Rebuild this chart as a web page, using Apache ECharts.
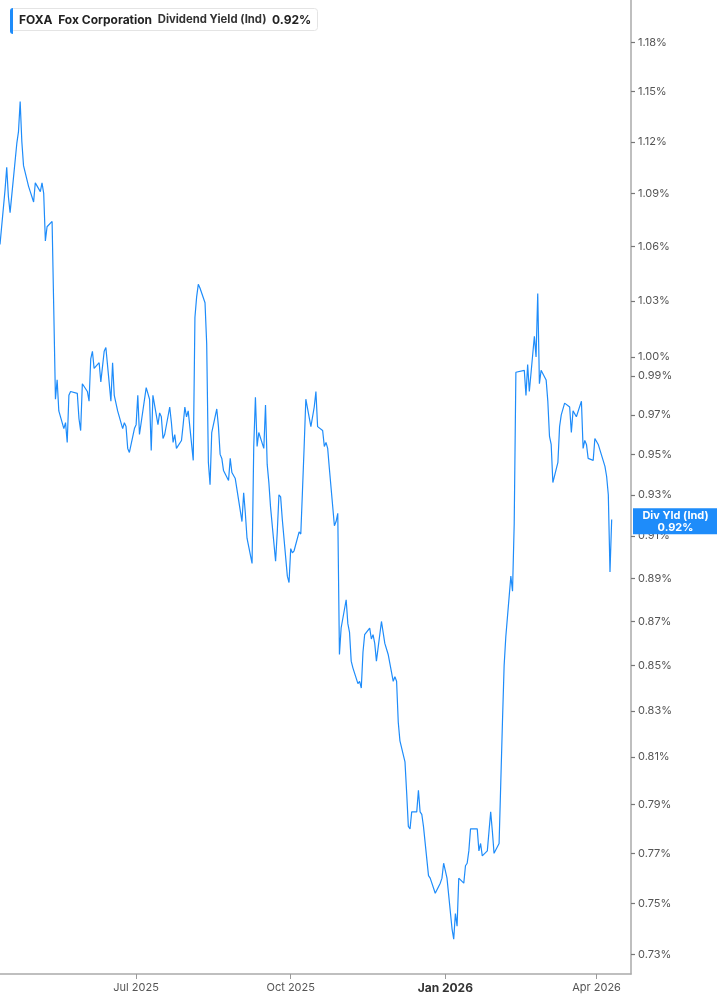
<!DOCTYPE html>
<html><head><meta charset="utf-8">
<script src="https://cdn.jsdelivr.net/npm/echarts@6/dist/echarts.min.js"></script>
<style>html,body{margin:0;padding:0;background:#fff}#chart{width:717px;height:1005px}</style>
</head><body><div id="chart"></div>
<script>
const startDate = '2025-04-11';
const endDate = '2026-04-10';
const marketHolidays = ['2025-04-18','2025-05-26','2025-06-19','2025-07-04','2025-09-01','2025-11-27','2025-12-25','2026-01-01','2026-01-19','2026-02-16','2026-04-03'];
const yieldValues = [
1.061,1.092,1.105,1.088,1.079,1.119,1.126,1.144,1.120,1.106,
1.094,1.091,1.088,1.085,1.096,1.091,1.096,1.090,1.063,1.071,
1.074,1.025,0.978,0.988,0.972,0.963,0.966,0.956,0.980,0.982,
0.981,0.968,0.962,0.986,0.982,0.977,0.999,1.003,0.994,0.997,
0.987,0.987,1.003,1.005,0.977,0.997,0.980,0.972,0.963,0.966,
0.964,0.953,0.951,0.963,0.965,
0.980,0.960,0.984,0.981,0.978,0.952,0.980,0.965,0.971,0.969,
0.958,0.960,0.974,0.966,0.956,0.960,0.953,0.957,0.965,0.974,
0.969,0.972,0.947,1.021,1.032,1.039,1.037,1.029,1.007,0.946,
0.935,0.961,0.973,0.964,0.950,0.948,0.942,0.937,0.948,0.941,
0.941,0.938,0.917,0.931,0.921,0.909,0.897,0.954,0.979,0.954,
0.961,0.953,0.975,0.945,0.936,0.924,0.898,0.912,0.930,0.929,
0.918,0.891,0.888,0.904,
0.902,0.903,0.912,0.911,0.932,0.954,0.978,0.964,0.963,0.974,
0.982,0.964,0.962,0.954,0.956,0.953,0.943,0.915,0.917,0.921,
0.855,0.867,0.880,0.869,0.865,0.852,0.849,0.842,0.843,0.840,
0.856,0.864,0.867,0.862,0.864,0.860,0.852,0.870,0.865,0.860,
0.855,0.843,0.845,0.843,0.825,0.817,0.808,0.795,0.781,0.780,
0.787,0.787,0.796,0.787,0.786,0.781,0.761,0.760,0.758,0.754,
0.758,0.760,0.766,0.760,
0.740,0.736,0.746,0.741,0.760,0.758,0.765,0.766,0.771,0.780,
0.780,0.771,0.774,0.769,0.771,0.779,0.787,0.779,0.770,0.774,
0.799,0.825,0.850,0.863,0.891,0.884,0.916,0.992,0.993,0.993,
0.980,0.996,0.982,1.011,1.000,1.034,0.986,0.993,0.988,0.977,
0.959,0.955,0.936,0.946,0.964,0.970,0.971,0.976,0.974,0.961,
0.972,0.971,0.969,0.977,0.953,0.957,0.955,0.948,0.947,0.958,
0.958,0.955,0.944,0.939,0.930,0.893,0.918
];
const yTickValues = [0.73,0.75,0.77,0.79,0.81,0.83,0.85,0.87,0.89,0.91,0.93,0.95,0.97,0.99,1.00,1.03,1.06,1.09,1.12,1.15,1.18];
const xTickDates = ['2025-07-01','2025-10-01','2026-01-01','2026-04-01'];
const yRange = [0.7226, 1.2068];
const xRange = ['2025-04-11', '2026-04-21 12:00:00'];
const monthNames = ['Jan','Feb','Mar','Apr','May','Jun','Jul','Aug','Sep','Oct','Nov','Dec'];

function tradingDays(start, end, holidays) {
  const out = [];
  const d = new Date(start + 'T00:00:00Z');
  const e = new Date(end + 'T00:00:00Z');
  while (d <= e) {
    const wd = d.getUTCDay();
    const s = d.toISOString().slice(0, 10);
    if (wd !== 0 && wd !== 6 && holidays.indexOf(s) < 0) out.push(s);
    d.setUTCDate(d.getUTCDate() + 1);
  }
  return out;
}
const tparse = function (s) { return +echarts.time.parse(s); };
const dates = tradingDays(startDate, endDate, marketHolidays);
const n = Math.min(dates.length, yieldValues.length);
const seriesData = [];
for (let i = 0; i < n; i++) seriesData.push([dates[i], yieldValues[i]]);
const lastValue = yieldValues[n - 1];
const lastText = lastValue.toFixed(2) + '%';

const FONT = 'Inter, "Noto Sans", sans-serif';
const BLUE = '#1E8CFA';
const chart = echarts.init(document.getElementById('chart'));
chart.setOption({
  animation: false,
  textStyle: { fontFamily: FONT },
  grid: { left: 0, right: 86, top: 0, bottom: 31, containLabel: false, outerBoundsMode: 'none' },
  title: {
    left: 10, top: 8,
    text: '{t|FOXA}  {n|Fox Corporation}  {d|Dividend Yield (Ind)}  {v|' + lastText + '}',
    padding: [6, 7, 5, 9],
    borderColor: '#e4e4e4', borderWidth: 1, borderRadius: 3, backgroundColor: '#fff',
    textStyle: {
      fontFamily: FONT, fontSize: 12, color: '#222',
      rich: {
        t: { fontFamily: FONT, fontSize: 12, fontWeight: 'bold', color: '#222' },
        n: { fontFamily: FONT, fontSize: 12, fontWeight: 'bold', color: '#222' },
        d: { fontFamily: FONT, fontSize: 11.3, color: '#333' },
        v: { fontFamily: FONT, fontSize: 12, fontWeight: 'bold', color: '#222' }
      }
    }
  },
  graphic: [{
    type: 'rect', left: 10, top: 8, z: 100,
    shape: { width: 3, height: 26, r: [3, 0, 0, 3] },
    style: { fill: BLUE }
  }],
  xAxis: [{
    type: 'time', min: xRange[0], max: xRange[1], show: false,
    splitLine: { show: false }
  }, {
    type: 'value', position: 'bottom',
    min: tparse(xRange[0]), max: tparse(xRange[1]),
    axisLine: { show: true, lineStyle: { color: '#aaa', width: 1.5 } },
    axisTick: { show: true, customValues: xTickDates.map(tparse), length: 5, lineStyle: { color: '#999' } },
    axisLabel: {
      customValues: xTickDates.map(tparse), color: '#555', fontSize: 11, margin: 8, fontFamily: FONT,
      formatter: function (v) {
        const d = new Date(v);
        const s = monthNames[d.getMonth()] + ' ' + d.getFullYear();
        return d.getMonth() === 0 ? '{b|' + s + '}' : s;
      },
      rich: { b: { fontWeight: 'bold', color: '#333', fontSize: 12, fontFamily: FONT } }
    },
    splitLine: { show: false }
  }],
  yAxis: [{
    type: 'log', logBase: 10, min: yRange[0], max: yRange[1], position: 'left', show: false,
    splitLine: { show: false }
  }, {
    type: 'value', position: 'right',
    min: Math.log10(yRange[0]), max: Math.log10(yRange[1]),
    axisLine: { show: true, lineStyle: { color: '#aaa', width: 1.5 } },
    axisTick: { show: true, customValues: yTickValues.map(Math.log10), length: 4, lineStyle: { color: '#777', width: 1.2 } },
    axisLabel: {
      customValues: yTickValues.map(Math.log10), color: '#555', fontSize: 11, margin: 7, fontFamily: FONT,
      formatter: function (v) { return Math.pow(10, v).toFixed(2) + '%'; }
    },
    splitLine: { show: false }
  }],
  series: [{
    type: 'line', xAxisIndex: 0, yAxisIndex: 0, data: seriesData, showSymbol: false, symbol: 'none',
    lineStyle: { color: BLUE, width: 1.2 }, itemStyle: { color: BLUE },
    markLine: {
      silent: true, symbol: ['none', 'none'], animation: false,
      lineStyle: { color: 'rgba(0,0,0,0)', width: 0 },
      label: {
        show: true, position: 'end', distance: 2, offset: [0, 6],
        formatter: '{a|Div Yld (Ind)}\n{a|' + lastText + '}',
        backgroundColor: BLUE, padding: [1, 0, 1, 0],
        rich: { a: { width: 85, align: 'center', color: '#fff', fontWeight: 'bold', fontSize: 11, lineHeight: 12, fontFamily: FONT } }
      },
      data: [{ yAxis: lastValue }]
    }
  }]
});
</script></body></html>
